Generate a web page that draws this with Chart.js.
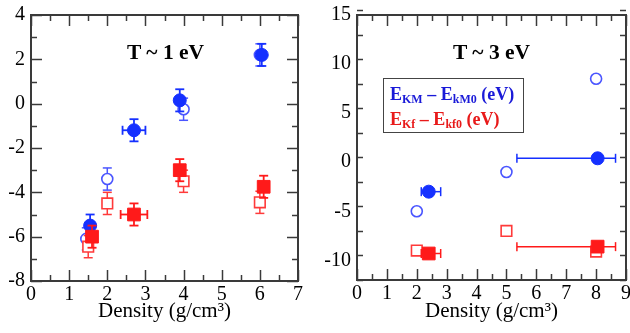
<!DOCTYPE html>
<html><head><meta charset="utf-8">
<script src="https://cdn.jsdelivr.net/npm/chart.js@4/dist/chart.umd.min.js"></script>
<style>
html,body{margin:0;padding:0;background:#fff;}
#wrap{position:relative;width:630px;height:333px;overflow:hidden;font-family:'Liberation Serif','Times New Roman',serif;}
canvas{position:absolute;top:0;}
#c1{left:0;} #c2{left:315px;}
.ttl{position:absolute;font-weight:bold;font-size:21.5px;white-space:nowrap;color:#000;line-height:22px;}
#legend{position:absolute;left:383px;top:78px;width:141px;height:55px;border:1.5px solid #444;background:#fff;font-weight:bold;font-size:18px;line-height:25px;padding:3px 0 0 6px;box-sizing:border-box;white-space:nowrap;}
#legend sub{font-size:12px;vertical-align:-3px;line-height:0;}
.lb{color:#1a1ad8;} .lr{color:#e81a1a;}
</style></head>
<body><div id="wrap">
<canvas id="c1" width="315" height="333"></canvas>
<canvas id="c2" width="315" height="333"></canvas>
<div class="ttl" style="left:127px;top:41px;">T ~ 1 eV</div>
<div class="ttl" style="left:453px;top:41px;">T ~ 3 eV</div>
<div id="legend"><div class="lb">E<sub>KM</sub> – E<sub>kM0</sub> (eV)</div><div class="lr">E<sub>Kf</sub> – E<sub>kf0</sub> (eV)</div></div>
</div>
<script>
// ---------- Left panel: T ~ 1 eV ----------
const L_xTicks = [0,1,2,3,4,5,6,7];
const L_yTicks = [-8,-6,-4,-2,0,2,4];
// E_KM - E_kM0, filled circles
const L_kmFilled_x   = [1.55, 2.7, 3.9, 6.05];
const L_kmFilled_y   = [-5.5, -1.2, 0.15, 2.2];
const L_kmFilled_yErr= [0.5, 0.5, 0.5, 0.5];
const L_kmFilled_xErr= [0, 0.3, 0, 0];
// E_KM - E_kM0, open circles
const L_kmOpen_x   = [1.45, 2.0, 4.0, 6.0];
const L_kmOpen_y   = [-6.1, -3.4, -0.25, 2.2];
const L_kmOpen_yErr= [0.5, 0.5, 0.5, 0.5];
// E_Kf - E_kf0, filled squares
const L_kfFilled_x   = [1.6, 2.7, 3.9, 6.1];
const L_kfFilled_y   = [-6.0, -5.0, -3.0, -3.75];
const L_kfFilled_yErr= [0.5, 0.5, 0.5, 0.5];
const L_kfFilled_xErr= [0, 0.35, 0, 0];
// E_Kf - E_kf0, open squares
const L_kfOpen_x   = [1.5, 2.0, 4.0, 6.0];
const L_kfOpen_y   = [-6.45, -4.5, -3.5, -4.45];
const L_kfOpen_yErr= [0.5, 0.5, 0.5, 0.5];

// ---------- Right panel: T ~ 3 eV ----------
const R_xTicks = [0,1,2,3,4,5,6,7,8,9];
const R_yTicks = [-10,-5,0,5,10,15];
const R_kmFilled_x    = [2.4, 8.05];
const R_kmFilled_y    = [-3.0, 0.4];
const R_kmFilled_xErrLo = [0.25, 2.7];
const R_kmFilled_xErrHi = [0.4, 0.6];
const R_kmOpen_x = [2.0, 5.0, 8.0];
const R_kmOpen_y = [-5.0, -1.0, 8.5];
const R_kfFilled_x    = [2.4, 8.05];
const R_kfFilled_y    = [-9.3, -8.6];
const R_kfFilled_xErrLo = [0.25, 2.7];
const R_kfFilled_xErrHi = [0.4, 0.6];
const R_kfOpen_x = [2.0, 5.0, 8.0];
const R_kfOpen_y = [-9.0, -7.0, -9.1];

const BLUE = '#1530ff', BLUE_OPEN = '#4a55ff', RED = '#ff1a1a', RED_OPEN = '#ff3a3a';
const FONT = "'Liberation Serif','Times New Roman',serif";

const pts = (xs, ys) => xs.map((x,i)=>({x, y: ys[i]}));

const errorBars = {
  id: 'errorBars',
  beforeDatasetDraw(chart, args) {
    const ds = chart.data.datasets[args.index];
    const {ctx, scales:{x, y}} = chart;
    const cap = 4.5;
    ctx.save();
    ctx.strokeStyle = ds.borderColor;
    ctx.lineWidth = ds.errWidth || 1.8;
    const seg = (x1,y1,x2,y2)=>{ctx.beginPath();ctx.moveTo(x1,y1);ctx.lineTo(x2,y2);ctx.stroke();};
    ds.data.forEach((p,i)=>{
      const px = x.getPixelForValue(p.x), py = y.getPixelForValue(p.y);
      if (ds.yErr && ds.yErr[i]) {
        const t = y.getPixelForValue(p.y + ds.yErr[i]), b = y.getPixelForValue(p.y - ds.yErr[i]);
        seg(px,t,px,b); seg(px-cap,t,px+cap,t); seg(px-cap,b,px+cap,b);
      }
      const lo = ds.xErrLo ? ds.xErrLo[i] : (ds.xErr ? ds.xErr[i] : 0);
      const hi = ds.xErrHi ? ds.xErrHi[i] : (ds.xErr ? ds.xErr[i] : 0);
      if (lo || hi) {
        const l = x.getPixelForValue(p.x - lo), r = x.getPixelForValue(p.x + hi);
        seg(l,py,r,py); seg(l,py-cap,l,py+cap); seg(r,py-cap,r,py+cap);
      }
    });
    ctx.restore();
  }
};

const frameTicks = {
  id: 'frameTicks',
  afterDatasetsDraw(chart, args, o) {
    const {ctx, chartArea:a, scales:{x, y}} = chart;
    ctx.save();
    ctx.strokeStyle = '#3a3a3a';
    ctx.lineWidth = 1.5;
    const seg = (x1,y1,x2,y2)=>{ctx.beginPath();ctx.moveTo(x1,y1);ctx.lineTo(x2,y2);ctx.stroke();};
    const MAJ = 11, MIN = 6;
    const nx = Math.round((x.max - x.min)/o.xMinor);
    for (let i=0;i<=nx;i++){
      const v = x.min + i*o.xMinor;
      const len = Math.abs(v/o.xMajor - Math.round(v/o.xMajor))<1e-6 ? MAJ : MIN;
      const px = Math.round(x.getPixelForValue(v))+0.5;
      seg(px,a.bottom,px,a.bottom-len); seg(px,a.top,px,a.top+len);
    }
    const ny = Math.round((y.max - y.min)/o.yMinor);
    for (let i=0;i<=ny;i++){
      const v = y.min + i*o.yMinor;
      const len = Math.abs(v/o.yMajor - Math.round(v/o.yMajor))<1e-6 ? MAJ : MIN;
      const py = Math.round(y.getPixelForValue(v))+0.5;
      seg(a.left,py,a.left+len,py); seg(a.right,py,a.right-len,py);
    }
    ctx.lineWidth = 2;
    ctx.strokeRect(a.left, a.top, a.right-a.left, a.bottom-a.top);
    ctx.restore();
  }
};

function makeChart(id, cfg) {
  return new Chart(document.getElementById(id), {
    type: 'scatter',
    data: { datasets: cfg.datasets },
    options: {
      responsive: false, animation: false, devicePixelRatio: 1,
      layout: { autoPadding: false, padding: { top: 15, right: cfg.padRight, left: 0, bottom: 0 } },
      plugins: { legend: {display:false}, tooltip: {enabled:false},
        frameTicks: cfg.ticks },
      scales: {
        x: { type:'linear', min: cfg.xTicks[0], max: cfg.xTicks[cfg.xTicks.length-1],
          grid: {display:false, drawTicks:false}, border: {display:false},
          afterBuildTicks: s => { s.ticks = cfg.xTicks.map(v=>({value:v})); },
          afterFit: s => { s.height = cfg.xHeight; s.paddingLeft = 0; s.paddingRight = 0; },
          ticks: { font: {family: FONT, size: 20}, color: '#000', padding: 2, maxRotation: 0, autoSkip: false },
          title: { display: true, text: 'Density (g/cm³)', font: {family: FONT, size: 21}, color: '#000', padding: {top: 0, bottom: 9} }
        },
        y: { type:'linear', min: cfg.yMin, max: cfg.yMax,
          grid: {display:false, drawTicks:false}, border: {display:false},
          afterBuildTicks: s => { s.ticks = cfg.yTicks.map(v=>({value:v})); },
          afterFit: s => { s.width = cfg.yWidth; s.paddingTop = 0; s.paddingBottom = 0; },
          ticks: { font: {family: FONT, size: 20}, color: '#000', padding: 6, autoSkip: false }
        }
      }
    },
    plugins: [errorBars, frameTicks]
  });
}

const filled = (label, data, color, style, r, extra) => Object.assign({
  label, data, pointStyle: style, pointRadius: r, backgroundColor: color, borderColor: color,
  pointBorderWidth: 1, showLine: false }, extra);
const open = (label, data, color, style, r, extra) => Object.assign({
  label, data, pointStyle: style, pointRadius: r, backgroundColor: '#ffffff', borderColor: color,
  pointBorderWidth: 1.6, showLine: false }, extra);

makeChart('c1', {
  padRight: 17, xHeight: 52, yWidth: 31, yMin: -8, yMax: 4,
  xTicks: L_xTicks, yTicks: L_yTicks,
  ticks: {xMajor:1, xMinor:0.5, yMajor:2, yMinor:1},
  datasets: [
    filled('E_Kf - E_kf0', pts(L_kfFilled_x, L_kfFilled_y), RED, 'rect', 9, {yErr: L_kfFilled_yErr, xErr: L_kfFilled_xErr}),
    filled('E_KM - E_kM0', pts(L_kmFilled_x, L_kmFilled_y), BLUE, 'circle', 6.5, {yErr: L_kmFilled_yErr, xErr: L_kmFilled_xErr}),
    open('E_Kf - E_kf0 (ref)', pts(L_kfOpen_x, L_kfOpen_y), RED_OPEN, 'rect', 7.5, {yErr: L_kfOpen_yErr, errWidth: 1.5}),
    open('E_KM - E_kM0 (ref)', pts(L_kmOpen_x, L_kmOpen_y), BLUE_OPEN, 'circle', 5.5, {yErr: L_kmOpen_yErr, errWidth: 1.5})
  ]
});

makeChart('c2', {
  padRight: 4, xHeight: 53, yWidth: 42, yMin: -12, yMax: 15,
  xTicks: R_xTicks, yTicks: R_yTicks,
  ticks: {xMajor:1, xMinor:0.5, yMajor:5, yMinor:2.5},
  datasets: [
    filled('E_Kf - E_kf0', pts(R_kfFilled_x, R_kfFilled_y), RED, 'rect', 9, {xErrLo: R_kfFilled_xErrLo, xErrHi: R_kfFilled_xErrHi, errWidth: 1.5}),
    filled('E_KM - E_kM0', pts(R_kmFilled_x, R_kmFilled_y), BLUE, 'circle', 6.5, {xErrLo: R_kmFilled_xErrLo, xErrHi: R_kmFilled_xErrHi, errWidth: 1.5}),
    open('E_Kf - E_kf0 (ref)', pts(R_kfOpen_x, R_kfOpen_y), RED_OPEN, 'rect', 7.5, {}),
    open('E_KM - E_kM0 (ref)', pts(R_kmOpen_x, R_kmOpen_y), BLUE_OPEN, 'circle', 5.5, {})
  ]
});
</script>
</body></html>
